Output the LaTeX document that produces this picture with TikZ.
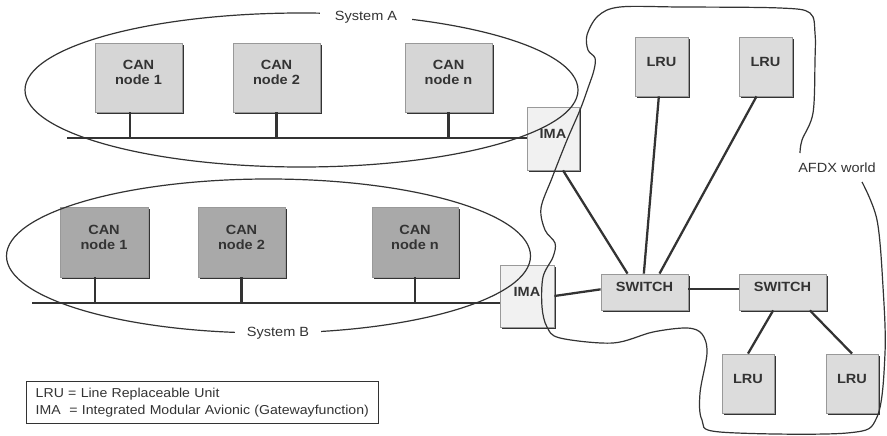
\documentclass[tikz,border=0pt]{standalone}
\usepackage{fontspec}
\setmainfont{Liberation Sans}[FakeStretch=1.09]
\usetikzlibrary{fit,shadows}
\definecolor{ink}{HTML}{333333}
\definecolor{canAfill}{HTML}{D6D6D6}
\definecolor{canBfill}{HTML}{A9A9A9}
\definecolor{lrufill}{HTML}{DCDCDC}
\definecolor{imafill}{HTML}{F1F1F1}
\begin{document}
\begin{tikzpicture}[x=0.75pt,y=-0.75pt,
  unit/.style={draw=gray!80, line width=0.6pt, inner sep=0pt,
    font=\fontsize{10}{11.25}\selectfont\bfseries, text=ink, align=center,
    drop shadow={shadow xshift=1.3pt, shadow yshift=-1.3pt, fill=ink, opacity=1}},
  cana/.style={unit, fill=canAfill},
  canb/.style={unit, fill=canBfill},
  lru/.style={unit, fill=lrufill},
  ima/.style={unit, fill=imafill},
  wire/.style={draw=ink, line width=1.7pt},
  outline/.style={draw=ink, line width=0.9pt},
  lbl/.style={font=\fontsize{10}{12}\selectfont, text=ink, fill=white, inner ysep=1pt},
  legend/.style={draw=ink, line width=0.6pt, font=\fontsize{9.7}{12.75}\selectfont, text=ink,
    align=left, text width=250pt, inner xsep=7pt, minimum height=31.5pt}
]
\useasboundingbox (0,0) rectangle (887,435);

% System A nodes
\node[cana, fit={(95,43) (182,112)}] (canA1) {CAN\\node 1};
\node[cana, fit={(233,43) (320,112)}] (canA2) {CAN\\node 2};
\node[cana, fit={(405,43) (492,112)}] (canAn) {CAN\\node n};
% System B nodes
\node[canb, fit={(60,207) (148,277)}] (canB1) {CAN\\node 1};
\node[canb, fit={(198,207) (285,277)}] (canB2) {CAN\\node 2};
\node[canb, fit={(372,207) (458,277)}] (canBn) {CAN\\node n};
% gateways
\node[ima, fit={(527,107) (579,170)}] (imaA) {IMA};
\node[ima, fit={(500,265) (554,327)}] (imaB) {IMA};
% AFDX
\node[lru, fit={(635,37) (688,96)}] (lruT1) {LRU};
\node[lru, fit={(739,37) (792,96)}] (lruT2) {LRU};
\node[lru, fit={(601,274) (688,310)}] (sw1) {SWITCH};
\node[lru, fit={(739,274) (826,310)}] (sw2) {SWITCH};
\node[lru, fit={(722,354) (774,413)}] (lruB1) {LRU};
\node[lru, fit={(826,354) (878,413)}] (lruB2) {LRU};

% buses
\coordinate (busA) at (67,138);
\coordinate (busB) at (32,303);
\draw[wire] (busA) -- (busA -| imaA.west);
\draw[wire] (busB) -- (busB -| imaB.west);
\draw[wire] ([xshift=-6.5pt]canA1.south) -- ([xshift=-6.5pt]canA1.south |- busA);
\draw[wire] (canA2.south) -- (canA2.south |- busA);
\draw[wire] (canAn.south) -- (canAn.south |- busA);
\draw[wire] ([xshift=-6.5pt]canB1.south) -- ([xshift=-6.5pt]canB1.south |- busB);
\draw[wire] (canB2.south) -- (canB2.south |- busB);
\draw[wire] (canBn.south) -- (canBn.south |- busB);

% AFDX links
\draw[wire] ([xshift=7.5pt]imaA.south) -- ([xshift=-12.75pt]sw1.north);
\draw[wire] ([xshift=-2pt]lruT1.south) -- ([xshift=-0.5pt]sw1.north);
\draw[wire] ([xshift=-6.75pt]lruT2.south) -- ([xshift=11.25pt]sw1.north);
\draw[wire] (imaB.east) -- ([yshift=2pt]sw1.west);
\draw[wire] ([yshift=2pt]sw1.east) -- ([yshift=2pt]sw2.west);
\draw[wire] ([xshift=-7pt]sw2.south) -- (lruB1.north);
\draw[wire] ([xshift=20.5pt]sw2.south) -- (lruB2.north);

% system outlines
\draw[outline] (301.5,90) ellipse [x radius=276.5, y radius=77];
\draw[outline] (268.5,256) ellipse [x radius=262, y radius=77];
\node[lbl, inner xsep=11pt] (sysA) at (366,17) {System A};
\node[lbl, inner xsep=9pt] (sysB) at (278,333) {System B};

% AFDX world outline
\draw[outline] plot[smooth, tension=0.55] coordinates {
 (800,153) (802,140) (813,113) (815,60) (815,33) (810,13) (780,8) (680,7) (620,7)
 (598,16) (587,35) (588,50) (595,58) (594,70) (588,88) (580,110) (567,140) (552,178)
 (541,208) (545,230) (555,243) (553,257) (543,277) (542,307) (547,327) (560,338)
 (613,343) (653,332) (687,328) (702,334) (707,353) (700,393) (702,420) (720,432)
 (847,433) (877,417) (885,353) (883,287) (877,220) (862,182)};
\node[font=\fontsize{10}{12}\selectfont, text=ink] (afdx) at (837,168) {AFDX world};

% legend
\node[legend, anchor=north west] (leg) at (26,381)
  {LRU = Line Replaceable Unit\\IMA\ \ = Integrated Modular Avionic (Gatewayfunction)};
\end{tikzpicture}
\end{document}
